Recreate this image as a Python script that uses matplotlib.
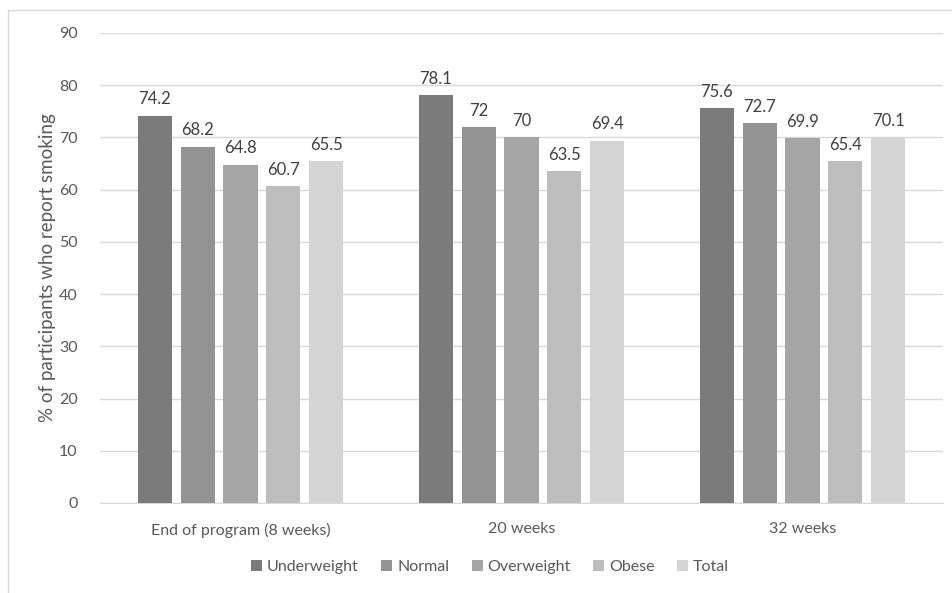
import numpy as np
import matplotlib.pyplot as plt
from matplotlib.patches import Rectangle

plt.rcParams['font.family'] = ['Lato', 'DejaVu Sans']

periods = ['End of program (8 weeks)', '20 weeks', '32 weeks']
groups = ['Underweight', 'Normal', 'Overweight', 'Obese', 'Total']
values = {
    'Underweight': [74.2, 78.1, 75.6],
    'Normal': [68.2, 72, 72.7],
    'Overweight': [64.8, 70, 69.9],
    'Obese': [60.7, 63.5, 65.4],
    'Total': [65.5, 69.4, 70.1],
}
labels = {
    'Underweight': ['74.2', '78.1', '75.6'],
    'Normal': ['68.2', '72', '72.7'],
    'Overweight': ['64.8', '70', '69.9'],
    'Obese': ['60.7', '63.5', '65.4'],
    'Total': ['65.5', '69.4', '70.1'],
}
colors = ['#7b7b7b', '#939393', '#a5a5a5', '#bdbdbd', '#d4d4d4']

W, H = 953, 593
fig = plt.figure(figsize=(W / 100, H / 100), dpi=100)

# light frame round the chart
fig.patches.append(Rectangle((8 / W, -0.1), 1.2, (H - 10) / H + 0.1,
                             transform=fig.transFigure, fill=False,
                             edgecolor='#d9d9d9', linewidth=1))

ax = fig.add_axes([100 / W, (H - 503) / H, 843 / W, 470 / H])

x = np.arange(len(periods))
width = 0.121
step = 0.153
for i, g in enumerate(groups):
    pos = x + (i - 2) * step
    bars = ax.bar(pos, values[g], width, color=colors[i], label=g, zorder=3)
    for b, lab in zip(bars, labels[g]):
        ax.text(b.get_x() + b.get_width() / 2, b.get_height() + 1.6, lab,
                ha='center', va='bottom', fontsize=12, color='#404040')

ax.set_xlim(-0.5, 2.5)
ax.set_ylim(0, 90)
ax.set_yticks(range(0, 91, 10))
ax.yaxis.grid(True, color='#d9d9d9', linewidth=1, zorder=0)
ax.set_xticks(x)
ax.set_xticklabels(periods)
ax.tick_params(axis='both', length=0, labelsize=11.5, labelcolor='#595959')
ax.tick_params(axis='x', pad=14)
ax.tick_params(axis='y', pad=16)
for s in ['top', 'right', 'left']:
    ax.spines[s].set_visible(False)
ax.spines['bottom'].set_color('#d9d9d9')

ax.set_ylabel('% of participants who report smoking', fontsize=13.5,
              color='#595959', labelpad=2)

fig.legend(loc='center', bbox_to_anchor=(490 / W, (H - 567) / H), ncol=5,
           frameon=False, fontsize=11.5, handlelength=0.7, handleheight=0.7,
           handletextpad=0.3, columnspacing=1.4, labelcolor='#595959')

fig.savefig('out.png', dpi=100)
